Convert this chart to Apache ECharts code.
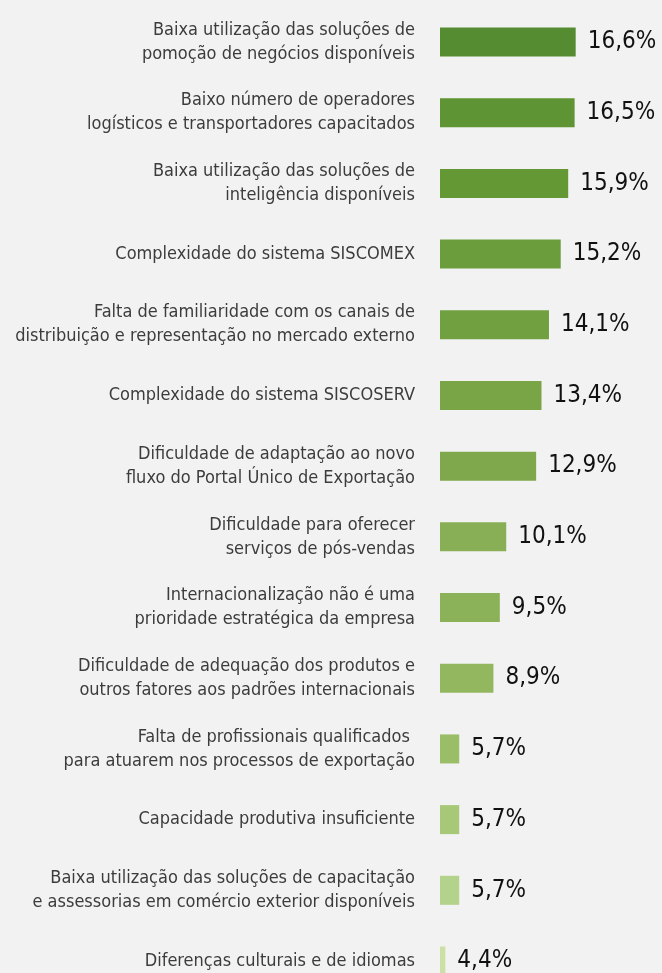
<!DOCTYPE html>
<html>
<head>
<meta charset="utf-8">
<script src="https://cdn.jsdelivr.net/npm/echarts@6/dist/echarts.min.js"></script>
<style>
  html, body { margin: 0; padding: 0; background: #f2f2f2; }
  #chart { width: 662px; height: 973px; }
</style>
</head>
<body>
<div id="chart"></div>
<script>
// Obstacles to exporting, share of companies (%)
const categories = [
  'Baixa utilização das soluções de\npomoção de negócios disponíveis',
  'Baixo número de operadores\nlogísticos e transportadores capacitados',
  'Baixa utilização das soluções de\ninteligência disponíveis',
  'Complexidade do sistema SISCOMEX',
  'Falta de familiaridade com os canais de\ndistribuição e representação no mercado externo',
  'Complexidade do sistema SISCOSERV',
  'Dificuldade de adaptação ao novo\nfluxo do Portal Único de Exportação',
  'Dificuldade para oferecer\nserviços de pós-vendas',
  'Internacionalização não é uma\nprioridade estratégica da empresa',
  'Dificuldade de adequação dos produtos e\noutros fatores aos padrões internacionais',
  'Falta de profissionais qualificados \npara atuarem nos processos de exportação',
  'Capacidade produtiva insuficiente',
  'Baixa utilização das soluções de capacitação\ne assessorias em comércio exterior disponíveis',
  'Diferenças culturais e de idiomas'
];
const values = [16.6, 16.5, 15.9, 15.2, 14.1, 13.4, 12.9, 10.1, 9.5, 8.9, 5.7, 5.7, 5.7, 4.4];

// green ramp, darkest for the first row
const barColors = [
  '#558b31', '#5e9433', '#639835', '#6b9d3c', '#70a040', '#79a546', '#7ea84b',
  '#88af55', '#8cb259', '#93b75f', '#9abd67', '#a6c877', '#b3d28b', '#cce0a5'
];

const fontFamily = '"DejaVu Sans Condensed", "Liberation Sans Narrow", sans-serif';
const fmt = v => v.toFixed(1).replace('.', ',') + '%';

const chart = echarts.init(document.getElementById('chart'), null, { renderer: 'canvas' });
chart.setOption({
  backgroundColor: '#f2f2f2',
  animation: false,
  grid: { left: 440, right: 50, top: 42, bottom: 12, containLabel: false },
  xAxis: {
    type: 'value', min: 3.9, max: 20,
    show: false
  },
  yAxis: {
    type: 'category',
    data: categories,
    inverse: true,
    boundaryGap: false,
    axisLine: { show: false },
    axisTick: { show: false },
    splitLine: { show: false },
    axisLabel: {
      margin: 25,
      align: 'right',
      color: '#3c3c3c',
      fontFamily: fontFamily,
      fontSize: 18,
      lineHeight: 24
    }
  },
  series: [{
    type: 'bar',
    data: values.map((v, i) => ({ value: v, itemStyle: { color: barColors[i] } })),
    barWidth: 29,
    label: {
      show: true,
      position: 'right',
      distance: 12,
      color: '#111111',
      fontFamily: fontFamily,
      fontSize: 24,
      formatter: p => fmt(p.value)
    }
  }]
});
</script>
</body>
</html>
